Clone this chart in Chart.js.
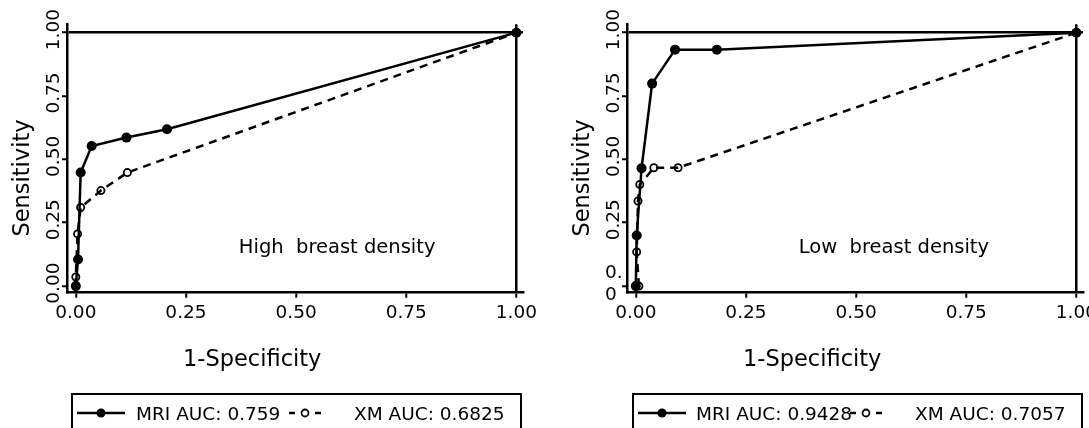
<!DOCTYPE html>
<html>
<head>
<meta charset="utf-8">
<script src="https://cdn.jsdelivr.net/npm/chart.js@4"></script>
<style>
  html, body { margin: 0; padding: 0; background: #fff; overflow: hidden; width: 1089px; height: 428px; }
  canvas { position: absolute; top: 0; }
  #c1 { left: 0; }
  #c2 { left: 560px; }
  .box { position: absolute; top: 393px; height: 60px; border: 2px solid #000; box-sizing: border-box; }
  .lbl { position: absolute; top: 405px; font: 18.5px "DejaVu Sans"; line-height: 18px; white-space: pre; color: #000; }
  svg { position: absolute; overflow: visible; }
</style>
</head>
<body>
<canvas id="c1" width="545" height="428"></canvas>
<canvas id="c2" width="545" height="428"></canvas>

<div class="box" style="left:71px; width:451px;"></div>
<svg style="left:77px; top:407px;" width="48" height="12">
  <line x1="0" y1="6" x2="48" y2="6" stroke="#000" stroke-width="2.5"/>
  <circle cx="24" cy="6" r="4.5" fill="#000"/>
</svg>
<span class="lbl" style="left:136px;">MRI AUC: 0.759</span>
<svg style="left:281px; top:407px;" width="48" height="12">
  <line x1="8" y1="6" x2="14" y2="6" stroke="#000" stroke-width="2.5"/>
  <line x1="34" y1="6" x2="40" y2="6" stroke="#000" stroke-width="2.5"/>
  <circle cx="24" cy="6" r="3.5" fill="none" stroke="#000" stroke-width="1.8"/>
</svg>
<span class="lbl" style="left:354px;">XM AUC: 0.6825</span>

<div class="box" style="left:632px; width:451px;"></div>
<svg style="left:638px; top:407px;" width="48" height="12">
  <line x1="0" y1="6" x2="48" y2="6" stroke="#000" stroke-width="2.5"/>
  <circle cx="24" cy="6" r="4.5" fill="#000"/>
</svg>
<span class="lbl" style="left:696px;">MRI AUC: 0.9428</span>
<svg style="left:842px; top:407px;" width="48" height="12">
  <line x1="8" y1="6" x2="14" y2="6" stroke="#000" stroke-width="2.5"/>
  <line x1="34" y1="6" x2="40" y2="6" stroke="#000" stroke-width="2.5"/>
  <circle cx="24" cy="6" r="3.5" fill="none" stroke="#000" stroke-width="1.8"/>
</svg>
<span class="lbl" style="left:915px;">XM AUC: 0.7057</span>

<script>
// tick values on both axes
var xTicks = [0, 0.25, 0.5, 0.75, 1];
var yTicks = [0, 0.25, 0.5, 0.75, 1];

// high breast density
var mriHighX = [0, 0.005, 0.011, 0.036, 0.115, 0.207, 1];
var mriHighY = [0, 0.105, 0.448, 0.553, 0.586, 0.619, 1];
var xmHighX = [0, 0, 0.004, 0.011, 0.057, 0.117, 1];
var xmHighY = [0, 0.036, 0.206, 0.31, 0.377, 0.448, 1];

// low breast density
var mriLowX = [0, 0.002, 0.013, 0.037, 0.089, 0.184, 1];
var mriLowY = [0, 0.2, 0.465, 0.799, 0.933, 0.933, 1];
var xmLowX = [0.007, 0.002, 0.005, 0.009, 0.041, 0.096, 1];
var xmLowY = [0, 0.135, 0.336, 0.401, 0.467, 0.467, 1];

var FONT = '"DejaVu Sans"';

function pts(xs, ys) {
  return xs.map(function (x, i) { return { x: x, y: ys[i] }; });
}

// axis titles, rotated y tick labels and the panel note
var textPlugin = {
  id: 'rocText',
  afterDraw: function (chart, args, opts) {
    var ctx = chart.ctx;
    var xs = chart.scales.x, ys = chart.scales.y;
    var area = chart.chartArea;
    ctx.save();
    ctx.fillStyle = '#000';

    ctx.font = '18.5px ' + FONT;
    yTicks.forEach(function (v) {
      var py = ys.getPixelForValue(v);
      if (v === 0 && opts.zeroFlat) {
        ctx.textAlign = 'left';
        ctx.textBaseline = 'alphabetic';
        ctx.fillText('0.', 45, py - 8);
        ctx.fillText('0', 45, py + 14);
        return;
      }
      ctx.save();
      ctx.translate(area.left - 8, py - 3);
      ctx.rotate(-Math.PI / 2);
      ctx.textAlign = 'center';
      ctx.textBaseline = 'alphabetic';
      ctx.fillText(v.toFixed(2), 0, 0);
      ctx.restore();
    });

    ctx.font = '22.5px ' + FONT;
    ctx.save();
    ctx.translate(29, 178);
    ctx.rotate(-Math.PI / 2);
    ctx.textAlign = 'center';
    ctx.textBaseline = 'alphabetic';
    ctx.fillText('Sensitivity', 0, 0);
    ctx.restore();

    ctx.textAlign = 'left';
    ctx.textBaseline = 'alphabetic';
    ctx.fillText('1-Specificity', 183, 366);

    ctx.font = '19.5px ' + FONT;
    ctx.fillText(opts.note, xs.getPixelForValue(0.37), ys.getPixelForValue(0.132));
    ctx.restore();
  }
};

function gridAt1(c) {
  return c.tick && c.tick.value === 1 ? '#000' : 'rgba(0,0,0,0)';
}

function makeChart(id, mriX, mriY, xmX, xmY, note, zeroFlat) {
  var ctx = document.getElementById(id).getContext('2d');
  return new Chart(ctx, {
    type: 'scatter',
    data: {
      datasets: [{
        label: 'MRI',
        data: pts(mriX, mriY),
        showLine: true,
        borderColor: '#000',
        backgroundColor: '#000',
        borderWidth: 2.5,
        pointRadius: 5,
        pointBorderWidth: 0,
        pointBackgroundColor: '#000',
        tension: 0
      }, {
        label: 'XM',
        data: pts(xmX, xmY),
        showLine: true,
        borderColor: '#000',
        borderWidth: 2.5,
        borderDash: [8, 6],
        pointRadius: 3.6,
        pointBorderWidth: 1.8,
        pointBorderColor: '#000',
        pointBackgroundColor: 'rgba(0,0,0,0)',
        tension: 0
      }]
    },
    options: {
      responsive: false,
      animation: false,
      layout: { padding: { left: 0, top: 24.3, right: 22, bottom: 95.3 } },
      plugins: {
        legend: { display: false },
        tooltip: { enabled: false },
        rocText: { note: note, zeroFlat: zeroFlat }
      },
      scales: {
        x: {
          type: 'linear',
          min: -0.02,
          max: 1.015,
          afterBuildTicks: function (s) { s.ticks = xTicks.map(function (v) { return { value: v }; }); },
          afterFit: function (s) { s.height = 40; s.paddingLeft = 0; s.paddingRight = 0; },
          ticks: {
            color: '#000',
            font: { family: 'DejaVu Sans', size: 18.5 },
            padding: 4,
            maxRotation: 0,
            autoSkip: false,
            callback: function (v) { return v.toFixed(2); }
          },
          grid: { color: gridAt1, lineWidth: 2.5, tickColor: '#000', tickLength: 5, tickWidth: 2 },
          border: { color: '#000', width: 2.5 }
        },
        y: {
          type: 'linear',
          min: -0.026,
          max: 1.033,
          afterBuildTicks: function (s) { s.ticks = yTicks.map(function (v) { return { value: v }; }); },
          afterFit: function (s) { s.width = 67; s.paddingTop = 0; s.paddingBottom = 0; },
          ticks: { display: false },
          grid: { color: gridAt1, lineWidth: 2.5, tickColor: '#000', tickLength: 5, tickWidth: 2 },
          border: { color: '#000', width: 2.5 }
        }
      }
    },
    plugins: [textPlugin]
  });
}

makeChart('c1', mriHighX, mriHighY, xmHighX, xmHighY, 'High  breast density', false);
makeChart('c2', mriLowX, mriLowY, xmLowX, xmLowY, 'Low  breast density', true);
</script>
</body>
</html>
